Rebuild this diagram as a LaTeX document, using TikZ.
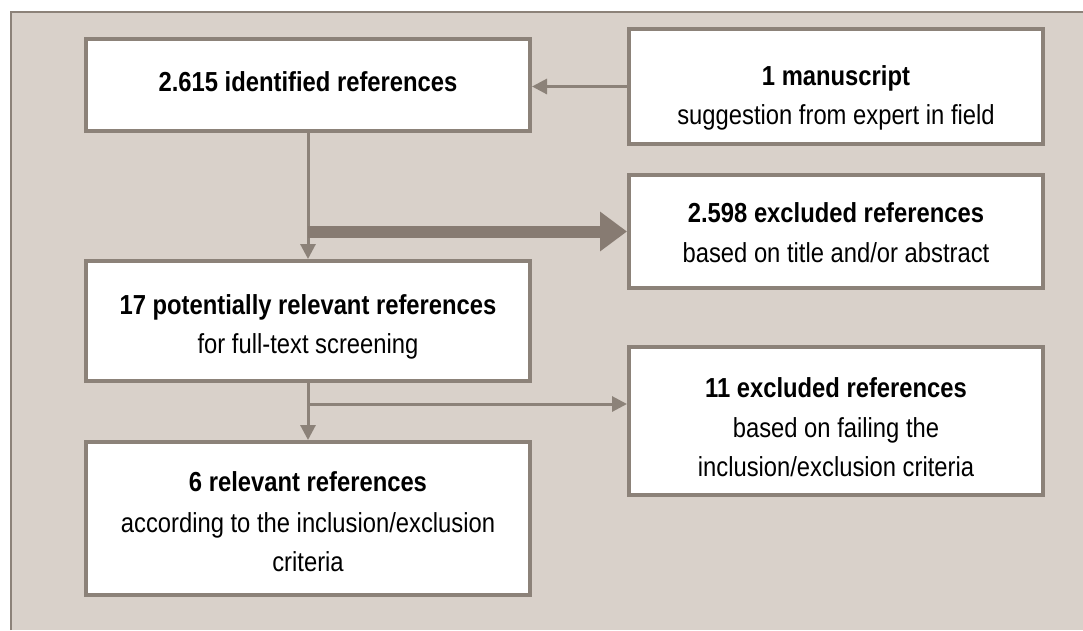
\documentclass[tikz,border=0pt]{standalone}
\usepackage{fontspec}
\setmainfont{Liberation Sans}[FakeStretch=0.865]
\usetikzlibrary{arrows.meta}
\definecolor{bgc}{RGB}{217,209,202}
\definecolor{linec}{RGB}{140,130,121}
\definecolor{thickc}{RGB}{135,123,114}
\tikzset{
  box/.style={draw=linec, line width=4pt, fill=white, inner sep=0pt, minimum width=#1},
  box/.default=444pt,
  txt/.style={anchor=base, inner sep=0pt, font=\fontsize{27.5}{32}\selectfont},
  hd/.style={txt, font=\fontsize{27.5}{32}\selectfont\bfseries},
  arr/.style={draw=linec, line width=3pt, -{Triangle[length=15pt,width=15pt]}},
  bigarr/.style={draw=thickc, line width=12pt, -{Triangle[length=27pt,width=38pt]}},
}
\begin{document}
\begin{tikzpicture}[x=1pt,y=-1pt]
\useasboundingbox (0,0) rectangle (1083,630);
\fill[white] (0,0) rectangle (1083,630);
\fill[bgc] (11,12) rectangle (1083,630);
\draw[linec, line width=2pt] (11,630) -- (11,12) -- (1083,12);

\node[box, minimum height=92pt] (A) at (308,85) {};
\node[box=414pt, minimum height=115pt] (B) at (836,86.5) {};
\node[box=414pt, minimum height=113pt] (C) at (836,231.5) {};
\node[box, minimum height=120pt] (D) at (308,321) {};
\node[box=414pt, minimum height=148pt] (E) at (836,421) {};
\node[box, minimum height=153pt] (F) at (308,518.5) {};

\node[hd] (a1) at (308,91) {2.615 identified references};
\node[hd] (b1) at (836,85) {1 manuscript};
\node[txt] (b2) at (836,124) {suggestion from expert in field};
\node[hd] (c1) at (836,222) {2.598 excluded references};
\node[txt] (c2) at (836,262) {based on title and/or abstract};
\node[hd] (d1) at (308,314) {17 potentially relevant references};
\node[txt] (d2) at (308,353) {for full-text screening};
\node[hd] (e1) at (836,397) {11 excluded references};
\node[txt] (e2) at (836,437) {based on failing the};
\node[txt] (e3) at (836,476) {inclusion/exclusion criteria};
\node[hd] (f1) at (308,491) {6 relevant references};
\node[txt] (f2) at (308,532) {according to the inclusion/exclusion};
\node[txt] (f3) at (308,571) {criteria};

\coordinate (j1) at (A.south |- C.west);
\coordinate (j2) at (308,404);

\draw[arr] (B.west) -- (B.west -| A.east);
\draw[arr] (A.south) -- (D.north);
\draw[bigarr] (j1) -- (C.west);
\draw[arr] (D.south) -- (F.north);
\draw[arr] (j2) -- (j2 -| E.west);
\end{tikzpicture}
\end{document}
